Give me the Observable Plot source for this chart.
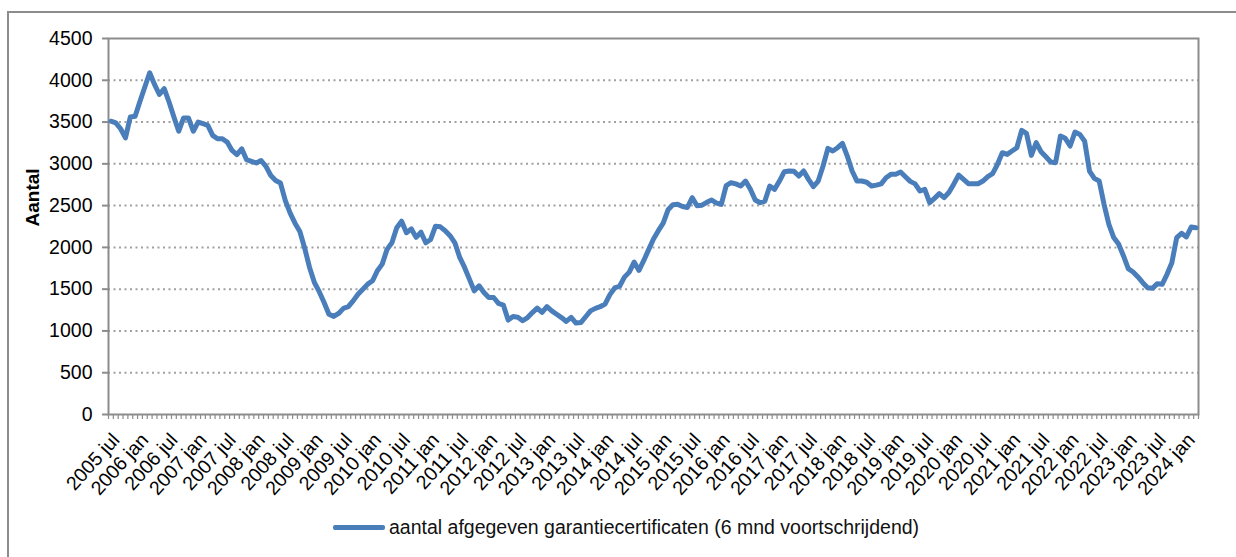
<!DOCTYPE html>
<html>
<head>
<meta charset="utf-8">
<script src="https://cdn.jsdelivr.net/npm/d3@7"></script>
<script src="https://cdn.jsdelivr.net/npm/@observablehq/plot@0.6"></script>
<style>
  body { margin: 0; background: #fff; font-family: "Liberation Sans", Arial, sans-serif; }
  #wrap { position: relative; width: 1236px; height: 557px; overflow: hidden; background: #fff; }
  #frame { position: absolute; left: 7px; top: 11px; width: 1250px; height: 560px;
           border-left: 2px solid #8c8c8c; border-top: 2px solid #8c8c8c; box-sizing: border-box; }
  #chart { position: absolute; left: 0; top: 0; }
  #legend { position: absolute; left: 333px; top: 516px; display: flex; align-items: center;
            font-size: 19.5px; color: #111; white-space: nowrap; }
  #legend .sw { display: inline-block; width: 52px; height: 5px; border-radius: 2px; background: #4a7ebb; margin-right: 4px; }
</style>
</head>
<body>
<div id="wrap">
  <div id="frame"></div>
  <div id="chart"></div>
  <div id="legend"><span class="sw"></span><span id="legtext"></span></div>
</div>
<script>
// Monthly values, 2005 jul .. 2024 mar (6-month moving total of certificates)
const values = [
  3510, 3490, 3420, 3310, 3560, 3570, 3750, 3920, 4090, 3950, 3830, 3900,   // 2005 jul - 2006 jun
  3740, 3560, 3390, 3550, 3550, 3390, 3500, 3480, 3460, 3340, 3300, 3300,   // 2006 jul - 2007 jun
  3260, 3160, 3110, 3180, 3050, 3030, 3010, 3040, 2970, 2860, 2800, 2770,   // 2007 jul - 2008 jun
  2560, 2410, 2290, 2190, 1990, 1760, 1580, 1470, 1340, 1200, 1174, 1210,   // 2008 jul - 2009 jun
  1270, 1290, 1360, 1440, 1500, 1560, 1600, 1720, 1800, 1976, 2055, 2234,   // 2009 jul - 2010 jun
  2313, 2175, 2222, 2120, 2182, 2055, 2095, 2254, 2246, 2200, 2140, 2055,   // 2010 jul - 2011 jun
  1880, 1760, 1620, 1480, 1540, 1460, 1400, 1400, 1330, 1310, 1130, 1174,   // 2011 jul - 2012 jun
  1165, 1122, 1160, 1220, 1274, 1222, 1290, 1240, 1200, 1160, 1114, 1162,   // 2012 jul - 2013 jun
  1094, 1100, 1170, 1240, 1270, 1290, 1322, 1435, 1515, 1535, 1644, 1704,   // 2013 jul - 2014 jun
  1824, 1724, 1844, 1973, 2100, 2200, 2290, 2450, 2510, 2515, 2490, 2478,   // 2014 jul - 2015 jun
  2595, 2498, 2505, 2540, 2567, 2530, 2515, 2740, 2774, 2760, 2734, 2794,   // 2015 jul - 2016 jun
  2695, 2567, 2535, 2555, 2734, 2695, 2794, 2906, 2914, 2910, 2854, 2914,   // 2016 jul - 2017 jun
  2814, 2727, 2794, 2974, 3185, 3153, 3193, 3245, 3093, 2914, 2794, 2794,   // 2017 jul - 2018 jun
  2780, 2734, 2745, 2760, 2834, 2874, 2874, 2902, 2846, 2790, 2760, 2675,   // 2018 jul - 2019 jun
  2695, 2535, 2587, 2643, 2595, 2660, 2760, 2866, 2814, 2762, 2762, 2762,   // 2019 jul - 2020 jun
  2794, 2846, 2882, 2994, 3133, 3113, 3153, 3193, 3400, 3364, 3101, 3253,   // 2020 jul - 2021 jun
  3145, 3085, 3022, 3014, 3333, 3305, 3213, 3380, 3352, 3270, 2914, 2826,   // 2021 jul - 2022 jun
  2794, 2515, 2276, 2117, 2040, 1900, 1746, 1706, 1646, 1578, 1518, 1510,   // 2022 jul - 2023 jun
  1566, 1558, 1678, 1817, 2117, 2169, 2125, 2244, 2236                      // 2023 jul - 2024 mar
];

// Category labels shown every 6 months
const tickLabels = [
  "2005 jul", "2006 jan", "2006 jul", "2007 jan", "2007 jul", "2008 jan", "2008 jul",
  "2009 jan", "2009 jul", "2010 jan", "2010 jul", "2011 jan", "2011 jul", "2012 jan",
  "2012 jul", "2013 jan", "2013 jul", "2014 jan", "2014 jul", "2015 jan", "2015 jul",
  "2016 jan", "2016 jul", "2017 jan", "2017 jul", "2018 jan", "2018 jul", "2019 jan",
  "2019 jul", "2020 jan", "2020 jul", "2021 jan", "2021 jul", "2022 jan", "2022 jul",
  "2023 jan", "2023 jul", "2024 jan"
];

const yTicks = [0, 500, 1000, 1500, 2000, 2500, 3000, 3500, 4000, 4500];
const yLabel = "Aantal";
const seriesName = "aantal afgegeven garantiecertificaten (6 mnd voortschrijdend)";

const data = values.map((v, i) => ({ i, v }));
const n = values.length;
const labelPos = tickLabels.map((d, k) => k * 6);
const boundaries = d3.range(n + 1).map(k => k - 0.5);

const chart = Plot.plot({
  width: 1236,
  height: 510,
  marginLeft: 108,
  marginRight: 38,
  marginTop: 38,
  marginBottom: 96,
  x: { type: "linear", domain: [-0.5, n - 0.5], label: null },
  y: { domain: [0, 4500], label: null },
  style: { fontFamily: "'Liberation Sans', Arial, sans-serif", fontSize: "19.5px", color: "#000", background: "transparent" },
  marks: [
    Plot.ruleY(yTicks.filter(d => d > 0 && d < 4500), { stroke: "#a0a0a0", strokeWidth: 2, strokeDasharray: "2,3.5" }),
    Plot.frame({ stroke: "#8c8c8c", strokeWidth: 2 }),
    Plot.axisX(boundaries, { tickSize: 5, tickFormat: () => "", label: null, stroke: "#8c8c8c", strokeWidth: 1.2 }),
    Plot.axisY(yTicks, { tickSize: 6, tickPadding: 10, stroke: "#8c8c8c", strokeWidth: 2,
                         tickFormat: d => String(d), label: null, fontSize: 19.5 }),
    Plot.text(labelPos, { x: d => d, text: (d, k) => tickLabels[k], frameAnchor: "bottom",
                          rotate: -48, textAnchor: "end", lineAnchor: "middle", dy: 22, dx: 5, fontSize: 19.5 }),
    Plot.text([yLabel], { frameAnchor: "left", dx: -76, rotate: -90, fontWeight: "bold", fontSize: 19 }),
    Plot.line(data, { x: "i", y: "v", stroke: "#4a7ebb", strokeWidth: 5, strokeLinejoin: "round", strokeLinecap: "round" })
  ]
});
document.getElementById("chart").appendChild(chart);
document.getElementById("legtext").textContent = seriesName;
</script>
</body>
</html>
